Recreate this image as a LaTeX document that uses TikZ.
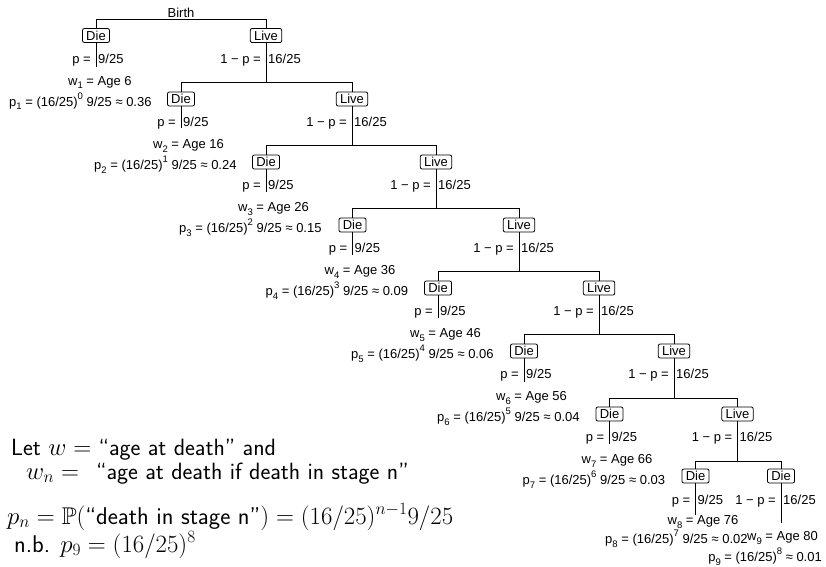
\documentclass[tikz,border=0pt]{standalone}
\usepackage{amssymb}
\usepackage{fontspec}
\newfontfamily\rfont{Liberation Sans}
% small raised / lowered indices for the tree labels
\newcommand\lsub[1]{\raisebox{-0.28em}{\fontsize{9.5}{9.5}\selectfont #1}}
\newcommand\lsup[1]{\raisebox{0.55em}{\fontsize{9.5}{9.5}\selectfont #1}}
\begin{document}
\begin{tikzpicture}[x=1pt,y=-1pt,
  lbl/.style={font=\rfont\fontsize{13}{15}\selectfont, inner sep=0pt,
              text height=9.3pt, text depth=0pt},
  box/.style={lbl, draw, fill=white, rounded corners=2pt, line width=0.8pt,
              inner xsep=3.8pt, inner ysep=2.4pt},
  edge/.style={line width=0.8pt},
  tx/.style={font=\sffamily\fontsize{23.5}{26}\selectfont, inner sep=0pt},
  txbig/.style={font=\sffamily\fontsize{24.2}{27}\selectfont, inner sep=0pt}]
\useasboundingbox (0,0) rectangle (826,566);

\node[lbl] (birth) at (181,13) {Birth};

% stages 1..7: a Die leaf and a Live branch
\foreach \k/\xd/\xl/\c/\h/\e/\age/\pv/\ex in {
  1/96/266/35.5/19.5/67/6/0.36/0,
  2/181/352/99/82/128/16/0.24/1,
  3/266/436/162/145/192/26/0.15/2,
  4/352.5/519/225/208/255/36/0.09/3,
  5/438/599/288/271/318/46/0.06/4,
  6/524/674/351/334/382/56/0.04/5,
  7/609.5/737.5/414/398/444/66/0.03/6}
{
  \coordinate (h\k) at (\xd,\h);
  \node[box] (d\k) at (\xd,\c) {Die};
  \node[box] (l\k) at (\xl,\c) {Live};
  \coordinate (e\k) at (\xd,\e);
  \draw[edge] (d\k.north) -- (h\k) -- (l\k |- h\k) -- (l\k.north);
  \draw[edge] (d\k.south) -- (e\k);
  \node[lbl, anchor=east] (pd\k) at (\xd-5,\c+23) {p =};
  \node[lbl, anchor=west] (vd\k) at (\xd+2,\c+23) {9/25};
  \node[lbl, anchor=east] (pl\k) at (\xl-5,\c+23) {1 − p =};
  \node[lbl, anchor=west] (vl\k) at (\xl+2,\c+23) {16/25};
  \node[lbl, anchor=west] (w\k) at (\xd-28,\c+45) {w\lsub{\k} = Age \age};
  \node[lbl, anchor=west] (p\k) at (\xd-87,\c+66)
    {p\lsub{\k} = (16/25)\lsup{\ex} 9/25 ≈ \pv};
}

% stage 8: both outcomes end in death
\coordinate (h8) at (695.5,461.5);
\node[box] (d8) at (695.5,476) {Die};
\node[box] (d9) at (781,476) {Die};
\coordinate (e8) at (695.5,515);
\coordinate (e9) at (781,523);
\draw[edge] (d8.north) -- (h8) -- (d9 |- h8) -- (d9.north);
\draw[edge] (d8.south) -- (e8);
\draw[edge] (d9.south) -- (e9);
\node[lbl, anchor=east] (pd8) at (690.5,499.5) {p =};
\node[lbl, anchor=west] (vd8) at (697.5,499.5) {9/25};
\node[lbl, anchor=east] (pl8) at (776,499.5) {1 − p =};
\node[lbl, anchor=west] (vl8) at (783,499.5) {16/25};
\node[lbl, anchor=west] (w8) at (667.5,520) {w\lsub{8} = Age 76};
\node[lbl, anchor=west] (p8) at (605,539) {p\lsub{8} = (16/25)\lsup{7} 9/25 ≈ 0.02};
\node[lbl, anchor=west] (w9) at (747,536) {w\lsub{9} = Age 80};
\node[lbl, anchor=east] (p9) at (822,557) {p\lsub{9} = (16/25)\lsup{8} ≈ 0.01};

% Live branches continue to the next stage
\foreach \a/\b in {1/2,2/3,3/4,4/5,5/6,6/7,7/8}
  \draw[edge] (l\a.south) -- (l\a |- h\b);

% definitions
\node[tx, anchor=base west] (defw) at (11,455)
  {Let $w =$ “age at death” and};
\node[tx, anchor=base west] (defwn) at (26,479)
  {$w_n$\hspace{7pt}$=$\hspace{17pt}“age at death if death in stage n”};
\node[txbig, anchor=base west] (defpn) at (7,524)
  {$p_n = \mathbb{P}($“death in stage n”$) = (16/25)^{n-1}9/25$};
\node[txbig, anchor=base west] (defp9) at (14,552)
  {n.b. $p_9 = (16/25)^8$};
\end{tikzpicture}
\end{document}
